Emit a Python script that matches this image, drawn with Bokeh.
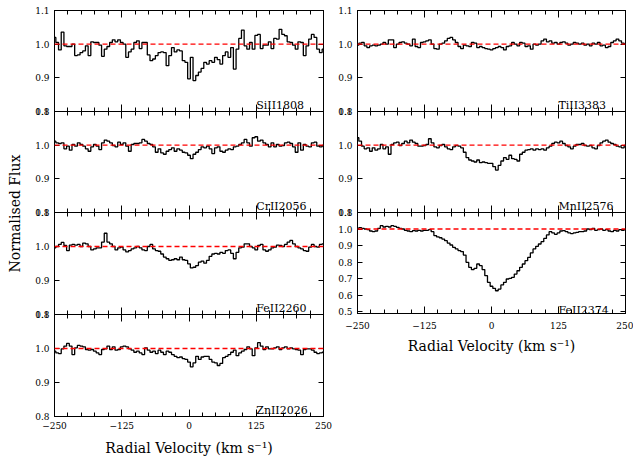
import numpy as np
from bokeh.plotting import figure
from bokeh.layouts import row, column
from bokeh.models import Range1d, FixedTicker, LinearAxis, Span, Label, PrintfTickFormatter
from bokeh.embed import file_html
from bokeh.resources import INLINE

# Velocity grid of the rebinned spectra (km/s)
velocity = np.arange(-250, 251, 5)

# Normalised flux per transition
si_1808 = [
    1.020, 1.005, 0.983, 1.036, 0.995, 0.993, 0.993, 1.000, 0.966, 0.968,
    0.975, 0.980, 0.995, 0.966, 1.007, 1.005, 1.005, 0.997, 0.964, 0.985,
    0.993, 1.005, 1.013, 1.007, 1.013, 1.005, 1.000, 0.961, 0.977, 0.985,
    1.005, 1.010, 0.987, 1.005, 1.005, 0.968, 0.951, 0.956, 0.966, 0.975,
    0.977, 0.975, 0.936, 0.966, 0.990, 0.977, 0.983, 0.980, 0.951, 0.946,
    0.897, 0.961, 0.892, 0.907, 0.917, 0.928, 0.946, 0.941, 0.951, 0.946,
    0.961, 0.954, 0.941, 0.966, 0.977, 0.961, 0.990, 0.926, 0.985, 1.017,
    1.042, 0.995, 0.985, 1.005, 0.985, 1.026, 1.029, 0.987, 0.997, 0.997,
    1.007, 0.987, 1.017, 1.015, 1.044, 1.029, 1.025, 1.007, 1.005, 0.997,
    0.985, 1.007, 1.005, 0.966, 0.995, 1.015, 1.029, 1.020, 0.985, 0.975,
    0.985,
]
cr_2056 = [
    1.012, 1.007, 1.005, 1.007, 0.989, 0.997, 0.985, 1.002, 0.997, 1.007,
    1.002, 0.997, 0.989, 0.982, 0.995, 1.002, 0.997, 0.987, 1.007, 1.015,
    1.012, 1.007, 0.999, 0.995, 1.009, 1.002, 1.007, 0.997, 0.982, 1.002,
    1.005, 1.005, 1.007, 1.017, 1.012, 1.005, 1.002, 0.995, 0.979, 0.989,
    0.977, 0.973, 0.982, 0.987, 0.992, 0.982, 0.989, 0.985, 0.979, 0.977,
    0.970, 0.960, 0.973, 0.979, 0.987, 0.995, 0.992, 0.997, 0.989, 0.975,
    0.992, 0.995, 0.982, 0.979, 0.985, 0.989, 0.987, 0.995, 0.997, 1.002,
    1.007, 1.017, 1.007, 0.997, 1.022, 1.025, 1.012, 1.015, 1.007, 1.002,
    0.995, 1.007, 0.995, 1.002, 0.997, 0.999, 1.007, 1.009, 1.005, 0.995,
    0.979, 1.007, 0.985, 1.002, 0.997, 0.995, 1.007, 1.009, 0.997, 0.995,
    0.999,
]
fe_2260 = [
    0.996, 1.000, 1.006, 1.012, 1.003, 0.988, 1.004, 1.006, 1.004, 1.006,
    1.000, 1.010, 1.008, 1.000, 0.990, 0.993, 0.996, 0.996, 1.013, 1.039,
    1.013, 1.008, 1.000, 0.990, 0.996, 0.998, 0.990, 0.984, 0.988, 0.993,
    0.996, 1.000, 0.996, 0.990, 0.988, 1.000, 1.006, 0.993, 0.988, 0.986,
    0.978, 0.969, 0.964, 0.959, 0.961, 0.964, 0.961, 0.969, 0.961, 0.959,
    0.949, 0.937, 0.939, 0.944, 0.954, 0.957, 0.951, 0.959, 0.971, 0.978,
    0.980, 0.978, 0.983, 0.980, 0.988, 0.990, 0.980, 0.964, 0.983, 0.996,
    0.998, 1.008, 1.008, 1.000, 0.996, 0.990, 1.003, 1.006, 0.990, 0.986,
    0.990, 0.996, 0.998, 1.004, 1.003, 1.000, 1.006, 1.013, 1.018, 1.008,
    1.000, 0.996, 0.993, 0.988, 0.986, 0.998, 1.006, 1.000, 0.998, 1.006,
    1.008,
]
zn_2026 = [
    0.992, 0.987, 0.985, 0.999, 1.007, 1.015, 1.007, 0.982, 1.002, 1.009,
    1.007, 1.005, 0.997, 0.995, 0.997, 0.992, 0.987, 0.982, 0.997, 0.999,
    1.007, 0.997, 1.005, 0.995, 0.997, 1.005, 1.007, 1.005, 0.999, 0.995,
    0.989, 0.992, 0.987, 0.982, 1.002, 0.995, 0.989, 0.992, 0.985, 0.995,
    0.989, 0.982, 0.992, 0.989, 0.982, 0.977, 0.973, 0.975, 0.970, 0.968,
    0.960, 0.946, 0.958, 0.977, 0.968, 0.975, 0.977, 0.977, 0.968, 0.960,
    0.958, 0.950, 0.956, 0.973, 0.977, 0.982, 0.989, 0.995, 0.979, 0.987,
    0.992, 0.997, 1.005, 0.999, 0.979, 1.002, 1.017, 1.007, 0.997, 1.005,
    0.999, 0.999, 1.002, 1.005, 0.997, 1.002, 1.005, 0.999, 1.002, 0.999,
    0.997, 0.995, 0.982, 0.997, 0.999, 0.999, 0.995, 0.989, 0.985, 0.987,
    0.989,
]
ti_3383 = [
    0.997, 1.003, 1.005, 0.995, 0.990, 0.995, 0.997, 0.995, 0.997, 1.000,
    1.005, 1.000, 1.013, 1.013, 0.990, 1.000, 1.005, 1.007, 1.003, 1.000,
    0.995, 1.015, 0.993, 0.990, 1.005, 1.007, 1.010, 1.013, 1.000, 0.987,
    0.985, 1.000, 1.003, 1.010, 1.017, 1.020, 1.013, 1.005, 0.993, 0.987,
    0.997, 0.995, 0.993, 1.005, 1.003, 0.990, 0.993, 0.990, 0.987, 0.985,
    0.983, 0.987, 0.990, 0.993, 0.990, 0.983, 0.993, 0.995, 1.005, 1.000,
    0.995, 1.005, 1.003, 0.993, 0.995, 0.985, 1.000, 0.997, 1.000, 1.010,
    1.015, 1.007, 1.010, 1.003, 1.005, 1.000, 1.005, 1.007, 1.003, 0.997,
    1.000, 1.005, 1.003, 1.000, 1.003, 0.997, 1.000, 0.995, 1.003, 1.000,
    1.005, 0.995, 0.997, 0.990, 0.993, 1.005, 1.010, 1.015, 1.010, 1.003,
    1.000,
]
mn_2576 = [
    1.022, 1.012, 0.997, 0.989, 0.992, 0.982, 0.992, 0.985, 0.989, 1.002,
    0.989, 0.995, 0.973, 1.002, 1.007, 1.009, 0.999, 1.005, 1.012, 1.007,
    1.015, 1.009, 1.005, 0.997, 0.997, 0.999, 1.002, 1.019, 1.007, 0.995,
    0.992, 0.999, 1.002, 0.995, 0.989, 0.987, 0.995, 0.999, 0.997, 0.992,
    0.979, 0.963, 0.956, 0.953, 0.950, 0.956, 0.948, 0.950, 0.948, 0.946,
    0.946, 0.936, 0.926, 0.940, 0.953, 0.963, 0.958, 0.970, 0.960, 0.958,
    0.953, 0.973, 0.979, 0.985, 0.987, 0.989, 0.985, 0.989, 0.987, 0.989,
    0.985, 0.992, 0.997, 1.005, 1.009, 1.007, 1.012, 1.005, 0.999, 0.995,
    0.989, 0.997, 1.002, 1.002, 1.005, 0.999, 0.997, 0.999, 0.992, 0.989,
    0.999, 1.007, 1.012, 1.015, 1.009, 1.005, 1.002, 0.997, 0.995, 0.992,
    0.999,
]
fe_2374 = [
    1.004, 1.008, 1.004, 1.000, 0.996, 0.988, 0.984, 0.988, 1.004, 1.020,
    1.012, 1.016, 1.012, 1.020, 1.016, 1.010, 1.004, 1.000, 0.992, 0.988,
    0.984, 0.990, 0.988, 0.992, 0.988, 0.992, 0.992, 0.996, 0.984, 0.960,
    0.952, 0.947, 0.939, 0.929, 0.915, 0.903, 0.889, 0.879, 0.869, 0.863,
    0.842, 0.798, 0.768, 0.754, 0.762, 0.788, 0.778, 0.754, 0.717, 0.677,
    0.653, 0.640, 0.626, 0.636, 0.661, 0.677, 0.697, 0.701, 0.707, 0.727,
    0.747, 0.768, 0.788, 0.808, 0.828, 0.855, 0.879, 0.895, 0.909, 0.923,
    0.943, 0.964, 0.984, 0.976, 0.968, 0.976, 0.988, 0.990, 0.984, 0.976,
    0.972, 0.976, 0.980, 0.984, 0.984, 0.988, 1.000, 0.996, 1.004, 0.992,
    0.996, 1.000, 0.992, 0.996, 0.988, 0.984, 0.992, 0.988, 0.996, 0.992,
    0.996,
]

left_panels = [("SiII1808", si_1808), ("CrII2056", cr_2056),
               ("FeII2260", fe_2260), ("ZnII2026", zn_2026)]
right_panels = [("TiII3383", ti_3383), ("MnII2576", mn_2576), ("FeII2374", fe_2374)]

x_major = [-250, -125, 0, 125, 250]
x_minor = list(range(-250, 251, 25))
x_labels = {-250: "\u2212250", -125: "\u2212125", 0: "0", 125: "125", 250: "250"}
y_major_small = [0.8, 0.9, 1.0, 1.1]
y_major_big = [0.5, 0.6, 0.7, 0.8, 0.9, 1.0, 1.1]

SERIF = "DejaVu Serif"
OVERLAP = 8  # border kept above/below each frame so stacked panels share edges


def style_axis(ax, ticker, is_x, show_labels):
    ax.ticker = ticker
    ax.axis_line_color = "black"
    ax.axis_line_width = 1
    ax.major_tick_line_color = "black"
    ax.minor_tick_line_color = "black"
    ax.major_tick_out = 0
    ax.minor_tick_out = 0
    ax.major_tick_in = 7 if is_x else 5
    ax.minor_tick_in = 4
    ax.major_label_text_font = SERIF
    if show_labels:
        ax.major_label_text_font_size = "9px"
        ax.major_label_text_color = "black"
    else:
        # tick marks only, no labels
        ax.major_label_text_font_size = "0px"
        ax.major_label_text_color = None
        ax.major_label_standoff = 0
    if is_x:
        ax.major_label_overrides = x_labels
    else:
        ax.formatter = PrintfTickFormatter(format="%.1f")
        ax.major_label_standoff = 5 if show_labels else 0


def make_panel(name, flux, ylim, yticks, frame_w, frame_h, border_l, border_r,
               first, last, label_standoff):
    p = figure(frame_width=frame_w, frame_height=frame_h,
               x_range=Range1d(-250, 250), y_range=Range1d(*ylim),
               output_backend="svg", toolbar_location=None,
               x_axis_location=None, y_axis_location=None,
               min_border_left=border_l, min_border_right=border_r,
               min_border_top=10 if first else OVERLAP,
               min_border_bottom=44 if last else OVERLAP,
               background_fill_color=None, border_fill_color=None,
               outline_line_color="black", outline_line_width=1,
               margin=(0, 0, 0, 0) if first else (-2 * OVERLAP, 0, 0, 0))
    p.grid.visible = False

    xt = FixedTicker(ticks=x_major, minor_ticks=x_minor)
    yt = FixedTicker(ticks=yticks, minor_ticks=[])

    bottom = LinearAxis()
    style_axis(bottom, xt, True, last)
    if last:
        bottom.major_label_standoff = label_standoff[0]
        bottom.axis_label = "Radial Velocity (km s\u207b\u00b9)"
        bottom.axis_label_text_font = SERIF
        bottom.axis_label_text_font_size = "14px"
        bottom.axis_label_text_font_style = "normal"
        bottom.axis_label_text_color = "black"
        bottom.axis_label_standoff = label_standoff[1]
    p.add_layout(bottom, "below")

    top = LinearAxis()
    style_axis(top, xt, True, False)
    p.add_layout(top, "above")

    left = LinearAxis()
    style_axis(left, yt, False, True)
    p.add_layout(left, "left")

    right = LinearAxis()
    style_axis(right, yt, False, False)
    p.add_layout(right, "right")

    p.step(x=velocity, y=flux, mode="center", line_color="black", line_width=1.3)
    p.add_layout(Span(location=1.0, dimension="width", line_color="red",
                      line_dash="5 3", line_width=1.3))

    span = ylim[1] - ylim[0]
    p.add_layout(Label(x=125, y=ylim[0] + span * (0.03 if span > 0.4 else 0.06),
                       text=name, text_align="left", text_baseline="alphabetic",
                       text_font=SERIF, text_font_size="11px", text_color="black"))
    return p


left_figs = []
for i, (name, flux) in enumerate(left_panels):
    left_figs.append(make_panel(name, flux, (0.8, 1.1), y_major_small,
                                269, 101 if i < 2 else 102, 28, 12,
                                i == 0, i == len(left_panels) - 1, (5, 8)))

right_figs = []
for i, (name, flux) in enumerate(right_panels):
    big = i == len(right_panels) - 1
    right_figs.append(make_panel(name, flux,
                                 (0.488, 1.1) if big else (0.8, 1.1),
                                 y_major_big if big else y_major_small,
                                 268, 101, 22, 8,
                                 i == 0, big, (8, 6)))

# Shared y-axis title
ylab = figure(width=26, height=457, x_range=Range1d(0, 26), y_range=Range1d(0, 457),
              min_border=0, toolbar_location=None, output_backend="svg",
              x_axis_location=None, y_axis_location=None, outline_line_color=None,
              background_fill_color=None, border_fill_color=None)
ylab.grid.visible = False
ylab.add_layout(Label(x=14, y=244, text="Normalised Flux", angle=np.pi / 2,
                      text_align="center", text_baseline="middle",
                      text_font=SERIF, text_font_size="14px", text_color="black"))

layout = row(ylab, column(*left_figs, spacing=0), column(*right_figs, spacing=0),
             spacing=0)

open("out.html", "w").write(file_html(layout, INLINE))
